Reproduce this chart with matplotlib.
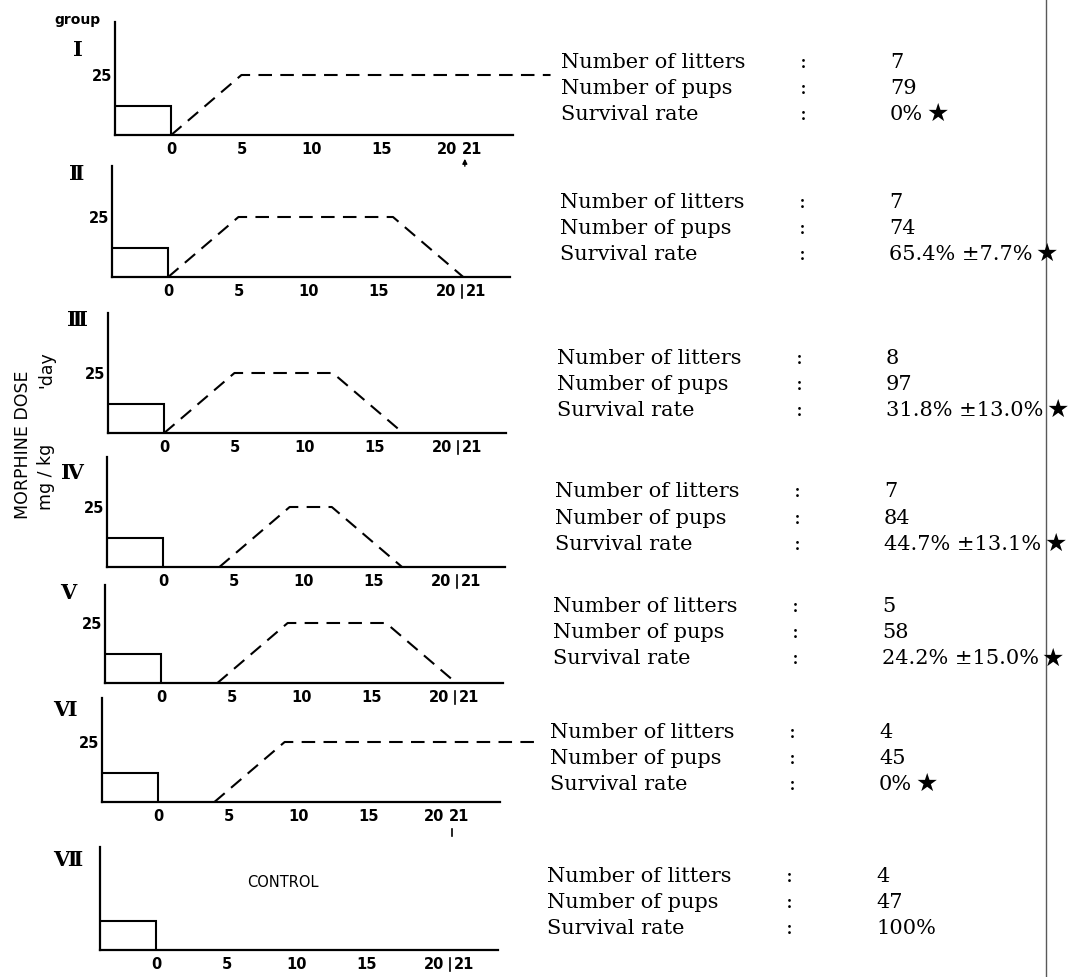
import matplotlib
matplotlib.use("Agg")
import matplotlib.pyplot as plt
from matplotlib.lines import Line2D

# ---- data ----
groups = ['Ⅰ', 'Ⅱ', 'Ⅲ', 'Ⅳ', 'Ⅴ', 'Ⅵ', 'Ⅶ']
pre_days = [-4, 0]          # pre-treatment period (days before birth)
pre_dose = 12               # mg/kg/day before day 0
# post-partum morphine schedule (dashed line): breakpoints per group
sched_days = [[0, 5, 27], [0, 5, 16, 21], [0, 5, 12, 17], [4, 9, 12, 17],
              [4, 9, 16, 21], [4, 9, 27], []]
sched_dose = [[0, 25, 25], [0, 25, 25, 0], [0, 25, 25, 0], [0, 25, 25, 0],
              [0, 25, 25, 0], [0, 25, 25], []]
day_ticks = [0, 5, 10, 15]
litters = [7, 7, 8, 7, 5, 4, 4]
pups = [79, 74, 97, 84, 58, 45, 47]
survival = [0, 65.4, 31.8, 44.7, 24.2, 0, 100]
survival_sem = [None, 7.7, 13.0, 13.1, 15.0, None, None]
significant = [True, True, True, True, True, True, False]
row_names = ['Number of litters', 'Number of pups', 'Survival rate']

# ---- layout (pixels of the 1069x977 page) ----
W, H = 1069, 977
panel_left = [115, 112, 108, 107, 105, 102, 100]
panel_base = [135, 277, 433, 567, 683, 802, 950]
panel_top = [22, 166, 313, 457, 585, 698, 847]
numeral_xy = [(78, 50), (77, 174), (77, 320), (72, 473), (68, 593), (65, 710), (68, 860)]
mark_style = ['arrow', 'bar', 'bar', 'bar', 'bar', 'tick', 'bar']
pups_row_y = [88, 228, 384, 518, 633, 758, 902]
text_x = [561, 560, 557, 555, 553, 550, 547]
DAY_PX = 14.05
DOSE_PX = 2.4
X_MIN, X_MAX = -4, 24.3

SANS = 'DejaVu Sans'
SERIF = ['DejaVu Serif', 'DejaVu Sans']
TXT = 15


def fx(x):
    return x / W


def fy(y):
    return 1 - y / H


fig = plt.figure(figsize=(W / 100, H / 100), dpi=100)
width_px = (X_MAX - X_MIN) * DAY_PX

for i in range(len(groups)):
    hp = panel_base[i] - panel_top[i]
    ax = fig.add_axes([fx(panel_left[i]), fy(panel_base[i]), width_px / W, hp / H])
    ax.set_xlim(X_MIN, X_MAX)
    ax.set_ylim(0, hp / DOSE_PX)
    for s in ['top', 'right']:
        ax.spines[s].set_visible(False)
    for s in ['left', 'bottom']:
        ax.spines[s].set_linewidth(1.6)
    ax.patch.set_alpha(0)

    # pre-treatment box
    ax.plot([pre_days[0], pre_days[1], pre_days[1]], [pre_dose, pre_dose, 0],
            color='k', lw=1.5, solid_joinstyle='miter')
    # post-partum schedule
    if sched_days[i]:
        ax.plot(sched_days[i], sched_dose[i], color='k', lw=1.5,
                ls=(0, (6.5, 4)), clip_on=False)
        ax.set_yticks([25], ['25'], fontsize=10.5, fontweight='bold', family=SANS)
    else:
        ax.set_yticks([])
        ax.text(9, 28, 'CONTROL', ha='center', va='center', fontsize=10.5,
                family=SANS)

    if mark_style[i] == 'bar':
        lab_pos = day_ticks + [19.8, 21.9]
    else:
        lab_pos = day_ticks + [19.6, 21.4]
    ax.set_xticks(lab_pos, [str(d) for d in day_ticks] + ['20', '21'],
                  fontsize=10.5, fontweight='bold', family=SANS)
    ax.tick_params(axis='x', length=0, pad=5)
    ax.tick_params(axis='y', length=0, pad=2)

    # day-21 marker under the axis
    xt = ax.get_xaxis_transform()
    if mark_style[i] == 'bar':
        ax.plot([20.9, 20.9], [-8 / hp, -21 / hp], transform=xt, color='k',
                lw=1.2, clip_on=False)
    elif mark_style[i] == 'tick':
        ax.plot([20.9, 20.9], [-27 / hp, -34 / hp], transform=xt, color='k',
                lw=1.2, clip_on=False)
    else:
        ax.annotate('', xy=(20.9, -21 / hp), xycoords=xt,
                    xytext=(20.9, -34 / hp), textcoords=xt,
                    arrowprops=dict(arrowstyle='-|>', color='k', lw=1.0,
                                    mutation_scale=7), annotation_clip=False)

    # group numeral
    fig.text(fx(numeral_xy[i][0]), fy(numeral_xy[i][1]), groups[i],
             ha='center', va='center', fontsize=15, fontweight='bold',
             family=SERIF)

    # side table
    if survival_sem[i] is None:
        surv = f'{survival[i]:g}%'
    else:
        surv = f'{survival[i]:.1f}% ±{survival_sem[i]:.1f}%'
    values = [str(litters[i]), str(pups[i]), surv]
    for r in range(3):
        y = pups_row_y[i] + (r - 1) * 26
        fig.text(fx(text_x[i]), fy(y), row_names[r], ha='left', va='center',
                 fontsize=TXT, family=SERIF)
        fig.text(fx(text_x[i] + 239), fy(y), ':', ha='left', va='center',
                 fontsize=TXT, family=SERIF)
        vt = fig.text(fx(text_x[i] + 329), fy(y), values[r], ha='left',
                      va='center', fontsize=TXT, family=SERIF)
        if r == 2 and significant[i]:
            fig.add_artist(plt.Annotation('★', xy=(1, 0.5), xycoords=vt,
                                          xytext=(2, 0), textcoords='offset points',
                                          ha='left', va='center', fontsize=18,
                                          family=SERIF))

fig.text(fx(77), fy(20), 'group', ha='center', va='center', fontsize=10,
         fontweight='bold', family=SANS)
fig.text(fx(23), fy(445), 'MORPHINE DOSE', rotation=90, ha='center',
         va='center', fontsize=12.5, family=SANS)
fig.text(fx(46), fy(477), 'mg / kg', rotation=90, ha='center', va='center',
         fontsize=12.5, family=SANS)
fig.text(fx(46), fy(370), "'day", rotation=90, ha='center', va='center',
         fontsize=12.5, family=SANS)

# page edge of the scan
fig.add_artist(Line2D([fx(1046), fx(1046)], [0, 1], color='0.35', lw=1))

fig.savefig('out.png', dpi=100)
